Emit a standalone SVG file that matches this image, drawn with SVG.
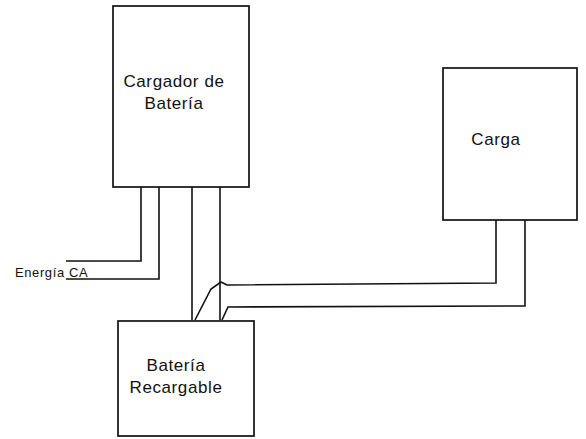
<svg xmlns="http://www.w3.org/2000/svg" width="586" height="439" viewBox="0 0 586 439">
<style>
.box{fill:#fff;stroke:#111;stroke-width:1.7}
.w{fill:none;stroke:#111;stroke-width:1.6;stroke-linejoin:miter}
.t{font-family:"Liberation Sans",Arial,sans-serif;font-size:17px;letter-spacing:0.6px;fill:#111;text-anchor:middle}
.s{font-family:"Liberation Sans",Arial,sans-serif;font-size:13px;letter-spacing:0.6px;fill:#111}
</style>
<rect width="586" height="439" fill="#fff"/>
<g id="connectors">
<polyline class="w" points="141,187 141,261 66,261"/>
<polyline class="w" points="159,187 159,279 66,279"/>
<polyline class="w" points="192,187 192,320"/>
<polyline class="w" points="220,187 220,320"/>
<polyline class="w" points="195,320 211,289 221,282 227,285 496,283 496,220"/>
<polyline class="w" points="222,320 228,307 525,306 525,220"/>
</g>
<g id="cargador">
<rect class="box" x="113" y="6" width="136" height="181"/>
<text class="t" x="174" y="87">Cargador de</text>
<text class="t" x="174" y="109">Batería</text>
</g>
<g id="carga">
<rect class="box" x="443" y="68" width="134" height="152"/>
<text class="t" x="496" y="145">Carga</text>
</g>
<g id="bateria">
<rect class="box" x="118" y="321" width="136" height="115"/>
<text class="t" x="176" y="371">Batería</text>
<text class="t" x="176" y="393">Recargable</text>
</g>
<g id="energia">
<text class="s" x="15" y="277">Energía CA</text>
</g>
</svg>
